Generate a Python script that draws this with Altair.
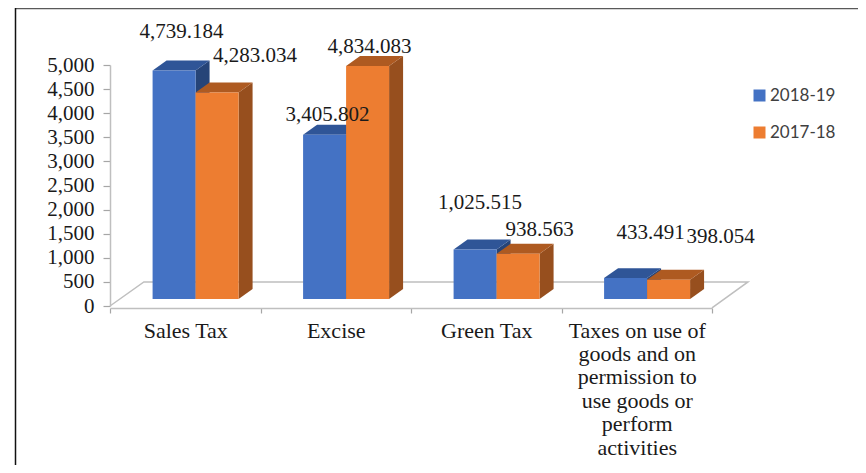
import json
import altair as alt
import pandas as pd

categories = ["Sales Tax", "Excise", "Green Tax", "Taxes on use of goods and on permission to use goods or perform activities"]
category_lines = [["Sales Tax"], ["Excise"], ["Green Tax"],
                  ["Taxes on use of", "goods and on", "permission to", "use goods or", "perform", "activities"]]
series_names = ["2018-19", "2017-18"]
values_2018_19 = [4739.184, 3405.802, 1025.515, 433.491]
values_2017_18 = [4283.034, 4834.083, 938.563, 398.054]

front_colors = ["#4472c4", "#ed7d31"]
top_colors = ["#2f5597", "#ae5a21"]
side_colors = ["#264478", "#974f1e"]

# projection constants, in data units
BAR_W = 0.2857
FIRST = 0.283
DEPTH_X = 0.093
DEPTH_Y = 207
BASE = 145
FLOOR_X = 0.225
FLOOR_XR = 0.239
FLOOR_Y = 500

W, H = 602, 241
label_font = "Liberation Serif"
x_scale = alt.Scale(domain=[0, 4], nice=False, zero=False)
y_scale = alt.Scale(domain=[0, 5000], nice=False)
series_scale = alt.Scale(domain=series_names, range=front_colors)
y_axis = alt.Axis(values=list(range(0, 5001, 500)), labelExpr="format(datum.value, ',')", grid=False, tickSize=7,
                  tickColor="#a6a6a6", tickWidth=1.2, domainColor="#bfbfbf", domainWidth=1.5,
                  labelFont=label_font, labelFontSize=21, labelColor="#1a1a1a", labelPadding=9)


def X(field="x", axis=None):
    return alt.X(field, type="quantitative", scale=x_scale, axis=axis, title=None)


def Y(field="y"):
    return alt.Y(field, type="quantitative", scale=y_scale, axis=y_axis, title=None)


def faces(s, vals):
    side, top, front = [], [], []
    for i, v in enumerate(vals):
        l = i + FIRST + s * BAR_W
        r = l + BAR_W
        t = BASE + v
        side += [dict(k=i, x=r, y=t, y2=BASE), dict(k=i, x=r + DEPTH_X, y=t + DEPTH_Y, y2=BASE + DEPTH_Y)]
        top += [dict(k=i, x=l, y=t, y2=t),
                dict(k=i, x=l + DEPTH_X, y=t + DEPTH_Y, y2=t),
                dict(k=i, x=r, y=t + DEPTH_Y, y2=t),
                dict(k=i, x=r + DEPTH_X, y=t + DEPTH_Y, y2=t + DEPTH_Y)]
        front.append(dict(x=l, x2=r, y=t, y2=BASE, series=series_names[s]))
    return pd.DataFrame(side), pd.DataFrame(top), pd.DataFrame(front)


labels_expr = "%s[floor(datum.value)]" % json.dumps(category_lines)
label_axis = alt.Axis(values=[0.5, 1.5, 2.5, 3.5], labelExpr=labels_expr, ticks=False, domain=False,
                      orient="bottom", labelFont=label_font, labelFontSize=22, labelColor="#1a1a1a",
                      labelAngle=0, labelLineHeight=23.4, labelPadding=12, labelOverlap=False,
                      labelBound=False, labelFlush=False, grid=False, offset=2, labelBaseline="top")

# floor outline with the tick-only x axis and the y axis
floor_left = pd.DataFrame(dict(x=[0, FLOOR_X, 4 + FLOOR_XR, 4], y=[0, FLOOR_Y, FLOOR_Y, -40]))
floor = alt.Chart(floor_left).mark_line(color="#bfbfbf", strokeWidth=1.5, clip=False).encode(
    x=X(axis=alt.Axis(values=[0, 1, 2, 3, 4], labels=False, tickSize=5, tickColor="#a6a6a6", orient="bottom",
                      domainColor="#bfbfbf", domainWidth=1.5, tickWidth=1.2, offset=2, grid=False)),
    y=Y(),
    order=alt.Order("o:Q"),
).transform_window(o="row_number()")

layers = [floor]
for s, vals in enumerate([values_2018_19, values_2017_18]):
    side, top, front = faces(s, vals)
    layers.append(alt.Chart(side).mark_area(color=side_colors[s], clip=False).encode(
        x=X(), y=Y(), y2="y2:Q", detail="k:N"))
    layers.append(alt.Chart(top).mark_area(color=top_colors[s], clip=False).encode(
        x=X(), y=Y(), y2="y2:Q", detail="k:N"))
    layers.append(alt.Chart(front).mark_rect(clip=False).encode(
        x=X(axis=label_axis if s == 0 else None),
        x2="x2:Q", y=Y(), y2="y2:Q",
        color=alt.Color("series:N", scale=series_scale, title=None, sort=series_names,
                        legend=alt.Legend(orient="none", legendX=641, legendY=22, symbolType="square",
                                          symbolSize=144, labelFont="Lato", labelFontSize=17,
                                          labelColor="#404040", rowPadding=19, symbolStrokeWidth=0,
                                          labelOffset=2)),
    ))

# manually placed value labels: offsets from the bar's back-top centre
offsets = [[(7.5, -28.6), (38, -27)], [(3, -10), (2, -9)], [(5, -37), (21.5, -14)], [(25, -35), (52, -33)]]
for s, vals in enumerate([values_2018_19, values_2017_18]):
    for i, v in enumerate(vals):
        d = pd.DataFrame([dict(x=i + FIRST + (s + 0.5) * BAR_W, y=v + BASE + DEPTH_Y, v=v)])
        dx, dy = offsets[i][s]
        layers.append(alt.Chart(d).mark_text(font=label_font, fontSize=21, color="#1a1a1a", dx=dx, dy=dy,
                                             baseline="middle", align="center", clip=False).encode(
            x=X(), y=Y(), text=alt.Text("v:Q", format=",.3f")))

# picture frame: top and left edges
frame = pd.DataFrame(dict(a=[0]))
layers.append(alt.Chart(frame).mark_rule(color="#595959", strokeWidth=1.5, clip=False).encode(
    x=alt.value(-94), x2=alt.value(748), y=alt.value(-56.5)))
layers.append(alt.Chart(frame).mark_rule(color="#111111", strokeWidth=1.5, clip=False).encode(
    x=alt.value(-94.5), y=alt.value(-57), y2=alt.value(400)))

chart = alt.layer(*layers).resolve_axis(x="independent").properties(
    width=W, height=H,
    padding={"left": 102, "top": 57, "right": 146, "bottom": 159},
    autosize=alt.AutoSizeParams(type="none"),
    background="white",
).configure_view(stroke=None)

chart.save("out.html", embed_options={"renderer": "svg", "actions": False})
